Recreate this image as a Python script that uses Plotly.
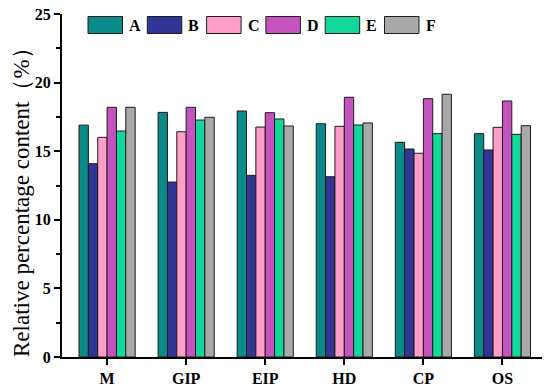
import plotly.graph_objects as go

categories = ["M", "GIP", "EIP", "HD", "CP", "OS"]
series_names = ["A", "B", "C", "D", "E", "F"]
A = [16.9, 17.83, 17.93, 17.0, 15.65, 16.28]
B = [14.09, 12.75, 13.24, 13.14, 15.16, 15.09]
C = [16.01, 16.42, 16.76, 16.81, 14.85, 16.74]
D = [18.2, 18.2, 17.81, 18.93, 18.83, 18.66]
E = [16.47, 17.27, 17.35, 16.91, 16.28, 16.23]
F = [18.2, 17.47, 16.84, 17.06, 19.15, 16.86]
values = [A, B, C, D, E, F]
colors = ["#0b8a8a", "#313596", "#ff9fc9", "#c453c0", "#12d99b", "#a9a9a9"]

y_ticks = [0, 5, 10, 15, 20, 25]

serif = "Liberation Serif"

fig = go.Figure()
for name, vals, col in zip(series_names, values, colors):
    fig.add_trace(go.Bar(
        x=categories, y=vals, name=name,
        marker=dict(color=col, line=dict(color="#1c1c1c", width=1)),
        showlegend=False,
    ))

# page body adds an 8px offset; layout is expressed in figure pixels
OFF = 8
W, H = 550, 389
plot_l, plot_r, plot_t, plot_b = 62 - OFF, 542 - OFF, 14 - OFF, 357 - OFF

def px_to_paper_x(px):
    return (px - OFF - plot_l) / (plot_r - plot_l)
def px_to_paper_y(py):
    return (plot_b - (py - OFF)) / (plot_b - plot_t)

sw_x0 = 88
step = 59.3
for i, (name, col) in enumerate(zip(series_names, colors)):
    x0 = sw_x0 + i * step
    fig.add_shape(type="rect", xref="paper", yref="paper",
                  x0=px_to_paper_x(x0), x1=px_to_paper_x(x0 + 34.5),
                  y0=px_to_paper_y(33.5), y1=px_to_paper_y(16.5),
                  fillcolor=col, line=dict(color="#1c1c1c", width=1))
    fig.add_annotation(xref="paper", yref="paper",
                       x=px_to_paper_x(x0 + 39), y=px_to_paper_y(25.5),
                       text=f"<b>{name}</b>", showarrow=False,
                       xanchor="left", yanchor="middle",
                       font=dict(family=serif, size=16, color="black"))

fig.add_annotation(xref="paper", yref="paper",
                   x=px_to_paper_x(21), y=px_to_paper_y(197),
                   text="Relative percentage content（%）", showarrow=False,
                   textangle=-90, xanchor="center", yanchor="middle",
                   font=dict(family=serif, size=23, color="black"))

fig.update_layout(
    width=W, height=H,
    margin=dict(l=plot_l, r=W - plot_r, t=plot_t, b=H - plot_b, autoexpand=False),
    paper_bgcolor="white", plot_bgcolor="white",
    barmode="group", bargap=0.29, bargroupgap=0,
    font=dict(family=serif, color="black"),
)
fig.update_xaxes(
    range=[-0.57, 5.5], automargin=False, ticklabeloverflow="allow",
    showline=True, linecolor="black", linewidth=2,
    ticks="outside", ticklen=6, tickwidth=2, tickcolor="black",
    tickfont=dict(family=serif, size=16, color="black", weight="bold"),
    showgrid=False, zeroline=False,
)
fig.update_yaxes(
    range=[0, 25], automargin=False, ticklabeloverflow="allow",
    tickvals=y_ticks, ticktext=[str(t) for t in y_ticks],
    showline=True, linecolor="black", linewidth=2,
    ticks="outside", ticklen=6, tickwidth=2, tickcolor="black",
    minor=dict(ticks="outside", ticklen=4, tickwidth=1.5, tickcolor="black", dtick=2.5, tick0=0),
    tickfont=dict(family=serif, size=16, color="black", weight="bold"),
    showgrid=False, zeroline=False,
)

fig.write_html("out.html")
